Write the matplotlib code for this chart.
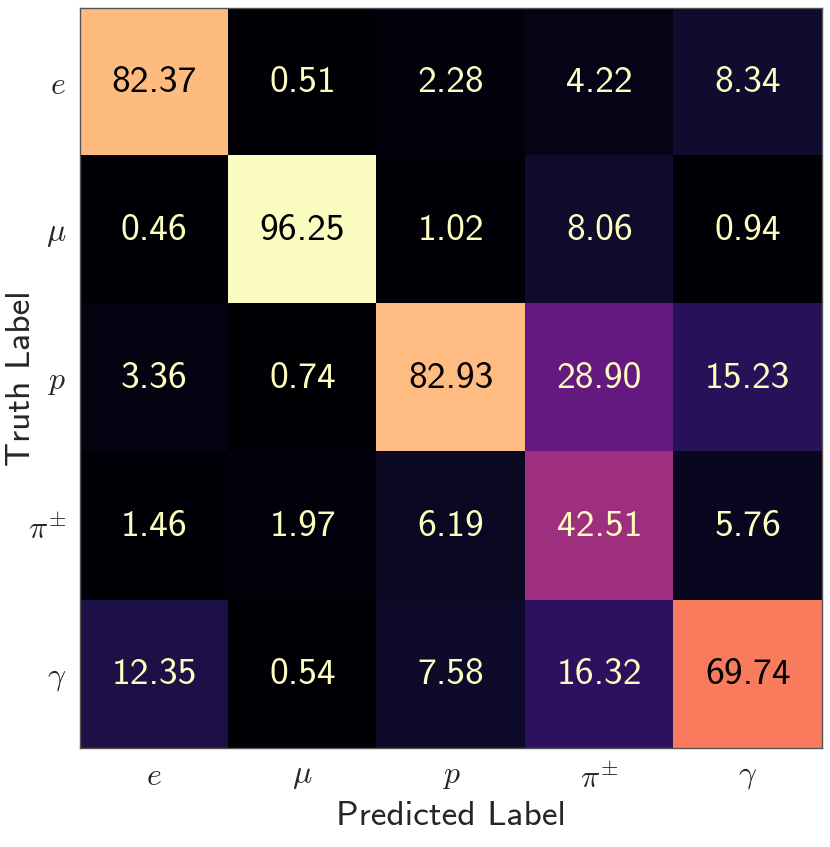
import matplotlib
matplotlib.use('Agg')
import matplotlib.pyplot as plt
import numpy as np

plt.rcParams['font.family'] = ['cmss10', 'DejaVu Sans']
plt.rcParams['mathtext.fontset'] = 'cm'
plt.rcParams['axes.unicode_minus'] = False

labels = [r'$e$', r'$\mu$', r'$p$', r'$\pi^{\pm}$', r'$\gamma$']
# rows = truth, cols = predicted (column normalised, %)
row_e = [82.37, 0.51, 2.28, 4.22, 8.34]
row_mu = [0.46, 96.25, 1.02, 8.06, 0.94]
row_p = [3.36, 0.74, 82.93, 28.90, 15.23]
row_pi = [1.46, 1.97, 6.19, 42.51, 5.76]
row_gamma = [12.35, 0.54, 7.58, 16.32, 69.74]
cm = np.array([row_e, row_mu, row_p, row_pi, row_gamma])

fig = plt.figure(figsize=(8.3, 8.47), dpi=100)
ax = fig.add_axes([80/830, 99/847, 742/830, 740/847])
cmap = plt.get_cmap('magma')
im = ax.imshow(cm, cmap=cmap, aspect='auto', vmin=0, vmax=cm.max())

light = cmap(1.0)
for i in range(cm.shape[0]):
    for j in range(cm.shape[1]):
        v = cm[i, j]
        c = 'black' if v > 60 else light
        ax.text(j, i, f'{v:.2f}', ha='center', va='center', color=c, fontsize=27)

ax.set_xticks(range(5))
ax.set_yticks(range(5))
ax.set_xticklabels(labels, fontsize=23, color='#262626')
ax.set_yticklabels(labels, fontsize=23, color='#262626')
ax.tick_params(length=0, pad=10)
ax.set_xlabel('Predicted Label', fontsize=25.5, color='#262626')
ax.set_ylabel('Truth Label', fontsize=25.5, color='#262626')
ax.xaxis.set_label_coords(0.5, -0.072)
ax.yaxis.set_label_coords(-0.058, 0.5)
for s in ax.spines.values():
    s.set_color('#555555')
    s.set_linewidth(1.0)

fig.savefig('out.png', dpi=100)
